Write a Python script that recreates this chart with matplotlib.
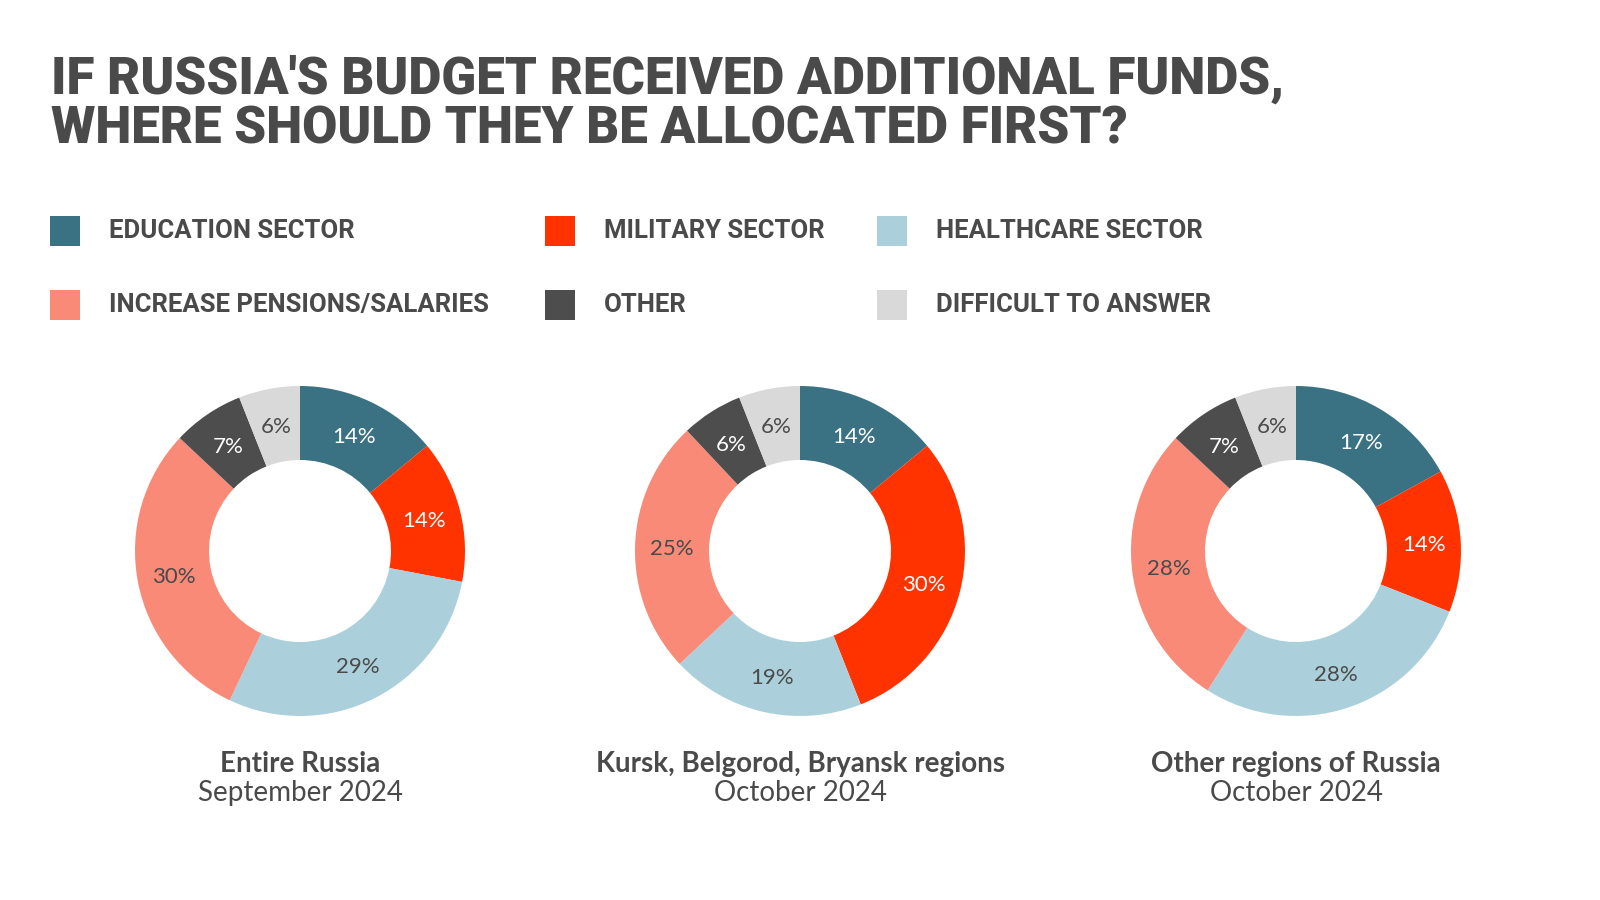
import matplotlib.pyplot as plt

# data
sectors = ['EDUCATION SECTOR', 'MILITARY SECTOR', 'HEALTHCARE SECTOR',
           'INCREASE PENSIONS/SALARIES', 'OTHER', 'DIFFICULT TO ANSWER']
colors = ['#3a7284', '#ff3300', '#abd0dc', '#f98a78', '#4d4d4d', '#d9d9d9']
label_colors = ['white', 'white', '#4a4a4a', '#4a4a4a', 'white', '#4a4a4a']

entire_russia = [14, 14, 29, 30, 7, 6]
border_regions = [14, 30, 19, 25, 6, 6]
other_regions = [17, 14, 28, 28, 7, 6]

groups = ['Entire Russia', 'Kursk, Belgorod, Bryansk regions', 'Other regions of Russia']
dates = ['September 2024', 'October 2024', 'October 2024']

TXT = '#4a4a4a'
W, H = 1600, 900

fig = plt.figure(figsize=(16, 9), dpi=100)
ax = fig.add_axes([0, 0, 1, 1])
ax.set_xlim(0, W)
ax.set_ylim(0, H)
ax.axis('off')

def y(p):
    return H - p

# title, scaled so the first line is as wide as in the original
t1 = ax.text(51, y(94), "IF RUSSIA'S BUDGET RECEIVED ADDITIONAL FUNDS,", va='baseline',
             family='Roboto', weight='black', size=36, color=TXT)
t2 = ax.text(51, y(143), "WHERE SHOULD THEY BE ALLOCATED FIRST?", va='baseline',
             family='Roboto', weight='black', size=36, color=TXT)
r = fig.canvas.get_renderer()
w = t1.get_window_extent(r).width
s = min(36 * 1233 / w, 38)
t1.set_fontsize(s)
t2.set_fontsize(s)

# legend
col_x = [50, 545, 877]
row_y = [231, 305]
for i, (name, c) in enumerate(zip(sectors, colors)):
    cx = col_x[i % 3]
    ry = row_y[i // 3]
    ax.add_patch(plt.Rectangle((cx, y(ry) - 15), 30, 30, color=c, lw=0))
    ax.text(cx + 59, y(ry), name, va='center', ha='left', family='Roboto',
            weight='bold', size=18.5, color=TXT)

# donuts
centers = [300, 800, 1296]
R, ring = 165, 74
for cx, vals, g, d in zip(centers, [entire_russia, border_regions, other_regions], groups, dates):
    wedges, _, autotexts = ax.pie(vals, colors=colors, center=(cx, y(551)), radius=R,
                                  startangle=90, counterclock=False, frame=True,
                                  wedgeprops=dict(width=ring, linewidth=0),
                                  autopct=lambda p: f'{p:.0f}%',
                                  pctdistance=(R - ring / 2) / R)
    for t, lc in zip(autotexts, label_colors):
        t.set_color(lc)
        t.set_fontsize(16)
        t.set_family('Lato')
        t.set_va('center_baseline')
    ax.text(cx, y(764), g, ha='center', va='center', family='Lato', weight='bold',
            size=20, color=TXT)
    ax.text(cx, y(793), d, ha='center', va='center', family='Lato',
            size=20, color=TXT)

ax.set_xlim(0, W)
ax.set_ylim(0, H)
ax.set_aspect('auto')
ax.axis('off')

fig.savefig('out.png', dpi=100, facecolor='white')
